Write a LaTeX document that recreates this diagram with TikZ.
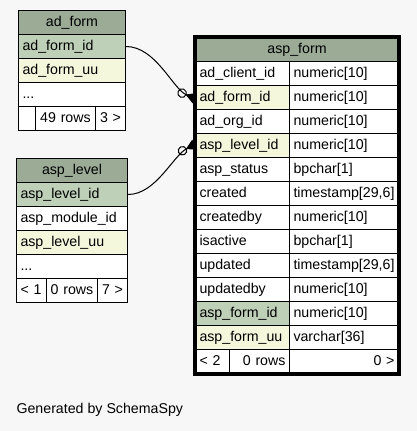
\documentclass[tikz,border=0pt]{standalone}
\usepackage{fontspec}
\setmainfont{Liberation Sans}
\usetikzlibrary{arrows.meta}
\definecolor{bgcol}{HTML}{F7F7F7}
\definecolor{headcol}{HTML}{9BAB96}
\definecolor{keycol}{HTML}{BED1B8}
\definecolor{uucol}{HTML}{F4F7DC}
\tikzset{
    cell/.style={draw=black, line width=1pt, fill=white, anchor=north west,
        minimum height=24pt, inner xsep=4pt, inner ysep=0pt,
        text height=10pt, text depth=3pt,
        font=\fontsize{14.2}{16}\selectfont, align=left},
    head/.style={cell, fill=headcol, align=center},
    fk/.style={line width=1pt,
        -{Circle[open, length=9.5pt, width=9.5pt, sep=-1pt] Triangle[reversed, length=10pt, width=11pt, sep=-2pt]}},
}
\begin{document}
\begin{tikzpicture}[x=1pt, y=-1pt]
    % 背景
    \fill[bgcol] (0,0) rectangle (417,431);

    % 表 ad_form
    \node[head, text width=99pt] (adform) at (18,10) {ad\_form};
    \node[cell, fill=keycol, text width=99pt] (adform-id) at (18,34) {ad\_form\_id};
    \node[cell, fill=uucol, text width=99pt] (adform-uu) at (18,58) {ad\_form\_uu};
    \node[cell, text width=99pt] (adform-more) at (18,82) {...};
    \node[cell, text width=9pt] (adform-foot1) at (18,106) {};
    \node[cell, text width=52pt, align=center] (adform-foot2) at (35,106) {49 rows};
    \node[cell, text width=22pt, align=center] (adform-foot3) at (95,106) {3 >};

    % 表 asp_level
    \node[head, text width=103pt] (asplevel) at (16,158) {asp\_level};
    \node[cell, fill=keycol, text width=103pt] (asplevel-id) at (16,182) {asp\_level\_id};
    \node[cell, text width=103pt] (asplevel-module) at (16,206) {asp\_module\_id};
    \node[cell, fill=uucol, text width=103pt] (asplevel-uu) at (16,230) {asp\_level\_uu};
    \node[cell, text width=103pt] (asplevel-more) at (16,254) {...};
    \node[cell, text width=22pt] (asplevel-foot1) at (16,278) {< 1};
    \node[cell, text width=43pt, align=center] (asplevel-foot2) at (46,278) {0 rows};
    \node[cell, text width=22pt, align=center] (asplevel-foot3) at (97,278) {7 >};

    % 表 asp_form
    \node[head, text width=195pt] (form) at (195,37) {asp\_form};
    \foreach \n/\t/\c [count=\i] in {
        ad\_client\_id/numeric[10]/white,
        ad\_form\_id/numeric[10]/uucol,
        ad\_org\_id/numeric[10]/white,
        asp\_level\_id/numeric[10]/uucol,
        asp\_status/bpchar[1]/white,
        created/{timestamp[29,6]}/white,
        createdby/numeric[10]/white,
        isactive/bpchar[1]/white,
        updated/{timestamp[29,6]}/white,
        updatedby/numeric[10]/white,
        asp\_form\_id/numeric[10]/keycol,
        asp\_form\_uu/varchar[36]/uucol} {
        \node[cell, fill=\c, text width=86pt] (form-\i) at (195,{37+24*\i}) {\n};
        \node[cell, text width=101pt] (formtype-\i) at (289,{37+24*\i}) {\t};
    }
    \node[cell, text width=26pt] (formfoot-1) at (195,349) {< 2};
    \node[cell, text width=52pt, align=right] (formfoot-2) at (229,349) {0 rows};
    \node[cell, text width=101pt, align=right] (formfoot-3) at (289,349) {0 >};
    \draw[line width=3.5pt] (form.north west) rectangle (formfoot-3.south east);

    % 外键连线
    \draw[fk] (adform-id.east) .. controls +(30,0) and +(-20,-8) .. ([xshift=-2pt]form-2.west);
    \draw[fk] (asplevel-id.east) .. controls +(28,0) and +(-20,10) .. ([xshift=-2pt]form-4.west);

    % 说明
    \node[anchor=west, font=\fontsize{14.2}{16}\selectfont] (credit) at (13,410) {Generated by SchemaSpy};
\end{tikzpicture}
\end{document}
